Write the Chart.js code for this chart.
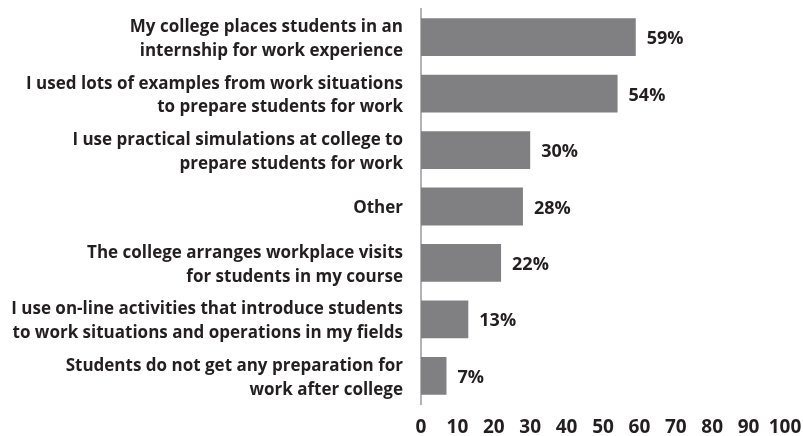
<!DOCTYPE html>
<html lang="en">
<head>
    <meta charset="UTF-8">
    <title>Work preparation</title>
    <script src="https://cdn.jsdelivr.net/npm/chart.js"></script>
    <style>
        html, body {
            margin: 0;
            background: #fff;
        }
        #wrap {
            width: 803px;
            height: 436px;
        }
    </style>
</head>
<body>
    <div id="wrap">
        <canvas id="chart" width="803" height="436"></canvas>
    </div>
    <script>
        const categories = [
            ['My college places students in an', 'internship for work experience'],
            ['I used lots of examples from work situations', 'to prepare students for work'],
            ['I use practical simulations at college to', 'prepare students for work'],
            'Other',
            ['The college arranges workplace visits', 'for students in my course'],
            ['I use on-line activities that introduce students', 'to work situations and operations in my fields'],
            ['Students do not get any preparation for', 'work after college']
        ];
        const values = [59, 54, 30, 28, 22, 13, 7];
        const xTicks = [0, 10, 20, 30, 40, 50, 60, 70, 80, 90, 100];

        const textColor = '#231f20';
        const fontFamily = '"Open Sans", "Noto Sans", sans-serif';

        // draws "59%" etc. just right of each bar
        const valueLabels = {
            id: 'valueLabels',
            afterDatasetsDraw(chart) {
                const ctx = chart.ctx;
                const meta = chart.getDatasetMeta(0);
                ctx.save();
                ctx.font = 'bold 18px ' + fontFamily;
                ctx.fillStyle = textColor;
                ctx.textAlign = 'left';
                ctx.textBaseline = 'middle';
                meta.data.forEach((bar, i) => {
                    ctx.fillText(values[i] + '%', bar.x + 11, bar.y + 2);
                });
                ctx.restore();
            }
        };

        new Chart(document.getElementById('chart'), {
            type: 'bar',
            data: {
                labels: categories,
                datasets: [{
                    data: values,
                    backgroundColor: '#808083',
                    borderWidth: 0,
                    barPercentage: 0.67,
                    categoryPercentage: 1.0
                }]
            },
            options: {
                indexAxis: 'y',
                responsive: false,
                animation: false,
                layout: {
                    padding: { top: 9, right: 18, bottom: 0, left: 0 }
                },
                plugins: {
                    legend: { display: false },
                    tooltip: { enabled: false }
                },
                scales: {
                    x: {
                        min: 0,
                        max: 100,
                        afterBuildTicks(axis) {
                            axis.ticks = xTicks.map(v => ({ value: v }));
                        },
                        afterFit(axis) {
                            axis.height = 32;
                            axis.paddingLeft = 0;
                            axis.paddingRight = 0;
                        },
                        grid: { display: false, drawTicks: false },
                        border: { display: false },
                        ticks: {
                            padding: 12,
                            maxRotation: 0,
                            color: textColor,
                            font: { family: fontFamily, size: 19, weight: 'bold' }
                        }
                    },
                    y: {
                        grid: { display: false, drawTicks: false },
                        border: { display: true, color: '#b3b3b3', width: 2 },
                        afterFit(axis) {
                            axis.width = 421;
                            axis.paddingTop = 0;
                            axis.paddingBottom = 0;
                        },
                        ticks: {
                            padding: 18,
                            labelOffset: 2,
                            color: textColor,
                            font: { family: fontFamily, size: 17, weight: 'bold', lineHeight: 1.4 }
                        }
                    }
                }
            },
            plugins: [valueLabels]
        });
    </script>
</body>
</html>
